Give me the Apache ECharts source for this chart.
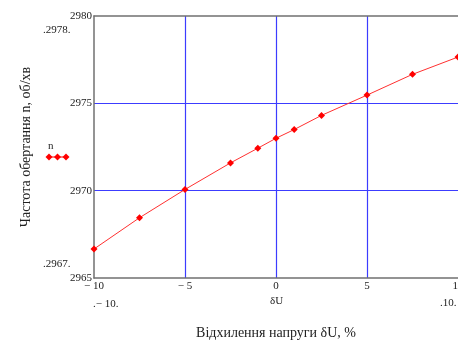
<!DOCTYPE html>
<html><head><meta charset="utf-8">
<script src="https://cdn.jsdelivr.net/npm/echarts@6/dist/echarts.min.js"></script>
<style>html,body{margin:0;padding:0;background:#fff}#c{width:458px;height:344px}</style>
</head><body><div id="c"></div>
<script>
const xValues = [-10, -7.5, -5, -2.5, -1, 0, 1, 2.5, 5, 7.5, 10];
const nValues = [2966.66, 2968.45, 2970.07, 2971.59, 2972.43, 2973.0, 2973.5, 2974.31, 2975.47, 2976.66, 2977.65];
const seriesName = 'n';
const xTitle = 'Відхилення напруги δU, %';
const yTitle = 'Частота обертання n, об/хв';
const extraLabels = [
  {text: '.2978.', x: 43, y: 25},
  {text: '.2967.', x: 43, y: 259},
  {text: '.− 10.', x: 93, y: 299},
  {text: 'δU', x: 270, y: 296},
  {text: '.10.', x: 440, y: 298}
];

const font = '"Liberation Serif", "Times New Roman", serif';
const chart = echarts.init(document.getElementById('c'), null, {renderer: 'canvas'});
const fmt = v => v < 0 ? '− ' + Math.abs(v) : String(v);
const blue = '#3c3cff';
const axisGray = '#707070';

chart.setOption({
  animation: false,
  backgroundColor: '#fff',
  grid: {left: 94, right: 0, top: 16, bottom: 66, containLabel: false, outerBoundsMode: 'none'},
  xAxis: [{
    type: 'value', min: -10, max: 10, interval: 5,
    axisLine: {show: true, onZero: false, lineStyle: {color: axisGray, width: 1.5}},
    axisTick: {show: false},
    splitLine: {show: true, showMinLine: false, showMaxLine: false, lineStyle: {color: blue, width: 1.2}},
    axisLabel: {formatter: fmt, fontFamily: font, fontSize: 11, color: '#222', margin: 3, hideOverlap: false},
    name: xTitle, nameLocation: 'middle', nameGap: 48,
    nameTextStyle: {fontFamily: font, fontSize: 14, color: '#222'}
  }, {
    type: 'value', position: 'top', min: -10, max: 10, interval: 5,
    axisLine: {show: true, onZero: false, lineStyle: {color: axisGray, width: 1.5}},
    axisTick: {show: false}, axisLabel: {show: false}, splitLine: {show: false}
  }],
  yAxis: {
    type: 'value', min: 2965, max: 2980, interval: 5,
    axisLine: {show: true, onZero: false, lineStyle: {color: axisGray, width: 1.5}},
    axisTick: {show: false},
    splitLine: {show: true, showMinLine: false, showMaxLine: false, lineStyle: {color: blue, width: 1.2}},
    axisLabel: {formatter: v => String(v), fontFamily: font, fontSize: 11, color: '#222', margin: 2},
    name: yTitle, nameLocation: 'middle', nameGap: 61, nameRotate: 90,
    nameTextStyle: {fontFamily: font, fontSize: 14, color: '#222'}
  },
  series: [{
    name: seriesName, type: 'line', xAxisIndex: 0,
    data: xValues.map((x, i) => [x, nValues[i]]),
    symbol: 'diamond', symbolSize: 7, showAllSymbol: true,
    lineStyle: {color: '#ff3030', width: 1},
    itemStyle: {color: '#ff0000'},
    clip: false
  }],
  graphic: extraLabels.map(l => ({
    type: 'text', left: l.x, top: l.y,
    style: {text: l.text, font: '11px ' + font, fill: '#222'}
  })).concat([
    {type: 'text', left: 48, top: 141, style: {text: seriesName, font: '11px ' + font, fill: '#222'}},
    {type: 'line', shape: {x1: 49, y1: 157, x2: 66, y2: 157}, style: {stroke: '#ff0000', lineWidth: 1}},
    ...[49, 57.5, 66].map(cx => ({type: 'polygon', shape: {points: [[cx, 153.5], [cx + 3.5, 157], [cx, 160.5], [cx - 3.5, 157]]}, style: {fill: '#ff0000'}}))
  ])
});
</script></body></html>
